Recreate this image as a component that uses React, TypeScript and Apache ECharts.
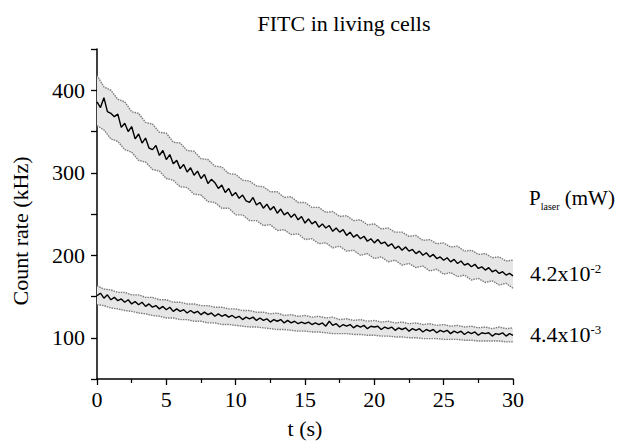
import React, { useEffect, useRef } from "react";
import * as echarts from "echarts";

// Mean count rate, sampled every 0.25 s (0 … 30 s)
const highMean = [
  386, 379, 391, 374, 372, 368, 371, 355, 360, 350, 356, 341, 347, 336, 342, 330, 328,
  333, 321, 327, 316, 322, 311, 315, 305, 310, 301, 306, 297, 302, 293, 298, 287,
  292, 288, 281, 285, 276, 281, 272, 276, 269, 273, 266, 264, 270, 261, 264, 257,
  262, 255, 259, 251, 256, 249, 252, 246, 250, 243, 247, 239, 244, 238, 241, 234,
  238, 233, 236, 229, 233, 228, 231, 224, 228, 222, 225, 220, 223, 217, 220, 215,
  219, 214, 216, 211, 214, 208, 211, 206, 210, 205, 207, 202, 205, 200, 203, 198,
  201, 196, 198, 194, 197, 192, 195, 190, 193, 188, 190, 186, 189, 184, 186, 182,
  185, 180, 182, 178, 180, 176, 178, 175,
];
const lowMean = [
  151, 154, 148, 152, 146, 149, 145, 147, 143, 146, 141, 144, 140, 143, 138, 141, 137,
  139, 135, 138, 134, 137, 132, 135, 132, 134, 130, 133, 130, 132, 128, 131, 128,
  130, 126, 129, 126, 128, 125, 127, 124, 126, 122, 125, 123, 125, 121, 124, 121,
  123, 119, 122, 120, 122, 118, 121, 118, 120, 117, 119, 117, 119, 116, 118, 116,
  118, 114, 120, 115, 117, 113, 116, 114, 116, 112, 115, 113, 115, 111, 114, 113,
  114, 110, 113, 111, 113, 109, 112, 110, 112, 108, 111, 109, 111, 107, 110, 108,
  110, 106, 109, 107, 109, 105, 108, 106, 108, 104, 107, 105, 107, 103, 106, 105,
  106, 102, 105, 104, 106, 102, 105, 103,
];

// Error envelopes (mean ± s.d.), sampled every 0.5 s
const highUpper = [
  418, 404, 400, 389, 386, 374, 372, 361, 359, 349, 348, 337, 336, 327, 326, 317, 316,
  308, 307, 299, 298, 291, 290, 284, 283, 277, 277, 270, 271, 264, 264, 258, 258,
  252, 253, 247, 248, 242, 243, 237, 238, 232, 233, 228, 228, 223, 224, 218, 219,
  214, 215, 210, 211, 205, 206, 201, 202, 197, 198, 193, 194,
];
const highLower = [
  357, 352, 341, 338, 328, 325, 315, 313, 304, 302, 293, 291, 283, 282, 274, 273, 265,
  264, 257, 257, 249, 249, 242, 242, 236, 237, 230, 231, 225, 226, 219, 220, 214,
  215, 209, 211, 205, 206, 200, 202, 196, 198, 192, 194, 188, 190, 185, 187, 181,
  183, 177, 179, 174, 176, 170, 172, 167, 169, 164, 166, 160,
];
const lowUpper = [
  163, 159, 158, 155, 155, 152, 152, 149, 149, 146, 146, 143, 143, 141, 141, 139, 139,
  137, 137, 135, 135, 133, 133, 131, 131, 129, 130, 127, 128, 126, 127, 125, 126,
  124, 125, 122, 123, 121, 122, 120, 121, 119, 120, 118, 119, 117, 118, 116, 117,
  115, 116, 114, 115, 113, 114, 112, 113, 111, 113, 111, 112,
];
const lowLower = [
  140, 139, 136, 135, 133, 132, 130, 129, 127, 126, 124, 124, 122, 122, 120, 120, 118,
  118, 116, 116, 115, 114, 113, 113, 112, 111, 110, 110, 109, 108, 108, 107, 107,
  106, 105, 105, 105, 104, 104, 103, 103, 102, 102, 101, 101, 100, 100, 99, 99, 99,
  98, 98, 98, 97, 97, 96, 96, 96, 96, 95, 95,
];

const fineStep = 0.25;
const coarseStep = 0.5;
const seriesLabels = ["4.2x10", "4.4x10"];
const seriesExponents = ["-2", "-3"];

const FONT = "'Liberation Serif', 'Times New Roman', serif";

const pair = (vals: number[], step: number) => vals.map((v, i) => [i * step, v]);

export default function App() {
  const ref = useRef<HTMLDivElement>(null);
  useEffect(() => {
    if (!ref.current) return;
    const chart = echarts.init(ref.current, null, { renderer: "svg" });

    const bandSeries = (upper: number[], lower: number[]) => ({
      type: "custom",
      data: [[0, 0]],
      silent: true,
      z: 1,
      renderItem: (_p: any, api: any) => {
        const pts: number[][] = [];
        upper.forEach((v, i) => pts.push(api.coord([i * coarseStep, v])));
        for (let i = lower.length - 1; i >= 0; i--) pts.push(api.coord([i * coarseStep, lower[i]]));
        return {
          type: "polygon",
          shape: { points: pts },
          style: { fill: "#e6e6e6", stroke: null },
        };
      },
    });

    const envelope = (vals: number[]) => ({
      type: "line",
      data: pair(vals, coarseStep),
      showSymbol: false,
      symbol: "none",
      z: 2,
      lineStyle: { color: "#7a7a7a", width: 1.4, type: [1.5, 1] },
    });

    const mean = (vals: number[]) => ({
      type: "line",
      data: pair(vals, fineStep),
      showSymbol: false,
      symbol: "none",
      z: 3,
      lineStyle: { color: "#000", width: 1.4 },
    });

    const txt = (x: number, y: number, main: string, sup: string) => ({
      type: "text",
      left: x,
      top: y,
      style: {
        text: `{a|${main}}{b|${sup}}`,
        rich: {
          a: { fontFamily: FONT, fontSize: 22, fill: "#000", verticalAlign: "bottom" },
          b: { fontFamily: FONT, fontSize: 13, fill: "#000", verticalAlign: "top" },
        },
      },
    });

    chart.setOption({
      animation: false,
      backgroundColor: "#fff",
      title: {
        text: "FITC in living cells",
        left: 339,
        textAlign: "center",
        top: 7,
        textStyle: { fontFamily: FONT, fontSize: 22, fontWeight: "normal", color: "#000" },
      },
      grid: { left: 97, right: 109, top: 49, bottom: 58 },
      xAxis: {
        type: "value",
        min: 0,
        max: 30,
        interval: 5,
        name: "t (s)",
        nameLocation: "middle",
        nameGap: 38,
        nameTextStyle: { fontFamily: FONT, fontSize: 22, color: "#000" },
        axisLine: { lineStyle: { color: "#000", width: 1.5 } },
        axisTick: { length: 6, lineStyle: { color: "#000", width: 1.3 } },
        minorTick: { show: true, splitNumber: 2, length: 4, lineStyle: { color: "#000", width: 1.2 } },
        axisLabel: { fontFamily: FONT, fontSize: 22, color: "#000", margin: 9 },
        splitLine: { show: false },
      },
      yAxis: {
        type: "value",
        min: 50,
        max: 450,
        interval: 50,
        axisLine: { show: true, lineStyle: { color: "#000", width: 1.5 } },
        axisTick: { length: 6, lineStyle: { color: "#000", width: 1.3 } },
        axisLabel: {
          fontFamily: FONT,
          fontSize: 22,
          color: "#000",
          margin: 12,
          formatter: (v: number) => (v % 100 === 0 && v >= 100 && v <= 400 ? String(v) : ""),
        },
        splitLine: { show: false },
      },
      graphic: [
        {
          type: "text",
          x: 20,
          y: 231,
          rotation: Math.PI / 2,
          style: {
            text: "Count rate (kHz)",
            fontFamily: FONT,
            fontSize: 22,
            fill: "#000",
            align: "center",
            verticalAlign: "middle",
          },
        },
        {
          type: "text",
          left: 529,
          top: 187,
          style: {
            text: "{a|P}{s|laser}{a| (mW)}",
            rich: {
              a: { fontFamily: FONT, fontSize: 21, fill: "#000", verticalAlign: "top" },
              s: { fontFamily: FONT, fontSize: 10, fill: "#000", verticalAlign: "bottom", padding: [14, 0, 0, 0] },
            },
          },
        },
        txt(530, 262, seriesLabels[0], seriesExponents[0]),
        txt(530, 323, seriesLabels[1], seriesExponents[1]),
      ],
      series: [
        bandSeries(highUpper, highLower),
        bandSeries(lowUpper, lowLower),
        envelope(highUpper),
        envelope(highLower),
        envelope(lowUpper),
        envelope(lowLower),
        mean(highMean),
        mean(lowMean),
      ],
    });
    return () => chart.dispose();
  }, []);
  return (
    <div
      ref={ref}
      style={{ position: "fixed", left: 0, top: 0, width: 622, height: 444 }}
    />
  );
}
